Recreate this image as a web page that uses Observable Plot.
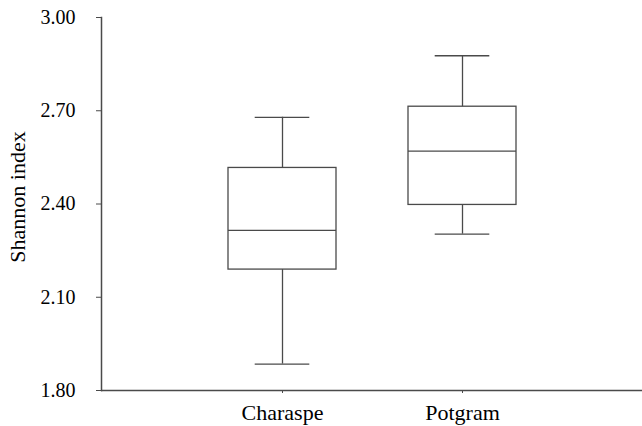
<!DOCTYPE html>
<html>
<head>
<meta charset="utf-8">
<script src="https://cdn.jsdelivr.net/npm/d3@7"></script>
<script src="https://cdn.jsdelivr.net/npm/@observablehq/plot@0.6"></script>
<style>
  html, body { margin: 0; padding: 0; background: #fff; }
  svg text { font-family: "Liberation Serif", "Times New Roman", serif !important; }
</style>
</head>
<body>
<div id="chart"></div>
<script>
const categories = ["Charaspe", "Potgram"];
const whiskerLow = [1.885, 2.303];
const q1 = [2.189, 2.397];
const median = [2.315, 2.570];
const q3 = [2.516, 2.713];
const whiskerHigh = [2.679, 2.877];
const yTicks = [1.80, 2.10, 2.40, 2.70, 3.00];
const yLabel = "Shannon index";

const data = categories.map((c, i) => ({
  cat: c, lo: whiskerLow[i], q1: q1[i], med: median[i], q3: q3[i], hi: whiskerHigh[i]
}));

const lineColor = "#4a4a4a";
const font = "Liberation Serif";

const chart = Plot.plot({
  width: 642,
  height: 426,
  marginLeft: 101,
  marginRight: 0,
  marginTop: 17,
  marginBottom: 36,
  style: { fontFamily: font, fontSize: "20px", color: "#000", background: "#fff" },
  x: { type: "band", domain: categories, paddingInner: 0.4, paddingOuter: 0.7, label: null },
  y: { domain: [1.8, 3.0], label: null },
  marks: [
    Plot.ruleX(data, { x: "cat", y1: "lo", y2: "hi", stroke: lineColor, strokeWidth: 1.3 }),
    Plot.barY(data, { x: "cat", y1: "q1", y2: "q3", fill: "#fff", stroke: lineColor, strokeWidth: 1.3 }),
    Plot.tickY(data, { x: "cat", y: "med", stroke: lineColor, strokeWidth: 1.3 }),
    Plot.tickY(data, { x: "cat", y: "lo", stroke: lineColor, strokeWidth: 1.3, inset: 26.7 }),
    Plot.tickY(data, { x: "cat", y: "hi", stroke: lineColor, strokeWidth: 1.3, inset: 26.7 }),
    Plot.ruleY([yTicks[0]], { stroke: lineColor, strokeWidth: 1.5 }),
    Plot.frame({ anchor: "left", stroke: lineColor, strokeWidth: 1.5 }),
    Plot.axisY({ ticks: yTicks, tickFormat: d3.format(".2f"), tickSize: 5, tickPadding: 21,
      label: null, stroke: lineColor, fill: "#000", fontSize: 20, fontFamily: font }),
    Plot.axisX({ tickSize: 3, tickPadding: 11, label: null, stroke: lineColor, fill: "#000",
      fontSize: 22, fontFamily: font }),
    Plot.text([yLabel], { text: d => d, frameAnchor: "left", textAnchor: "middle", lineAnchor: "middle",
      rotate: -90, dx: -84, dy: -7, fontSize: 22, fill: "#000", fontFamily: font })
  ]
});

document.getElementById("chart").appendChild(chart);
</script>
</body>
</html>
